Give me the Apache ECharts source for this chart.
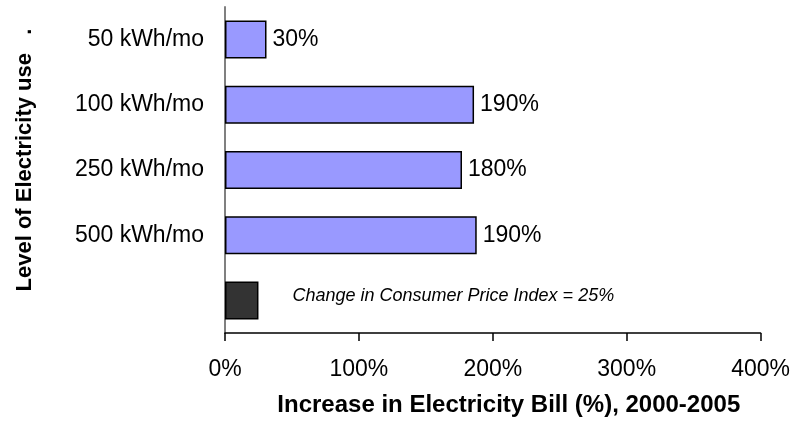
<!DOCTYPE html>
<html>
<head>
<meta charset="utf-8">
<script src="https://cdn.jsdelivr.net/npm/echarts@6/dist/echarts.min.js"></script>
<style>
html,body{margin:0;padding:0;background:#fff;}
#main{width:793px;height:422px;}
</style>
</head>
<body>
<div id="main"></div>
<script>
var categories = ['50 kWh/mo', '100 kWh/mo', '250 kWh/mo', '500 kWh/mo', ''];
var billIncrease = [31, 186, 177, 188, 25];
var barLabels = ['30%', '190%', '180%', '190%', 'Change in Consumer Price Index = 25%'];
var xTicks = [0, 100, 200, 300, 400];

var myChart = echarts.init(document.getElementById('main'));

var fontName = '"Liberation Sans", Arial, sans-serif';

function buildData(){
    var out = [];
    for (var i = 0; i < billIncrease.length; i++) {
        var isCpi = (i === billIncrease.length - 1);
        out.push({
            value: billIncrease[i],
            itemStyle: {
                color: isCpi ? '#333333' : '#9999FF',
                borderColor: '#000',
                borderWidth: 1.5
            },
            label: {
                show: true,
                position: 'right',
                distance: isCpi ? 34 : 6,
                offset: isCpi ? [0, -4] : [0, 0],
                formatter: barLabels[i],
                fontFamily: fontName,
                fontSize: isCpi ? 18 : 23,
                fontStyle: isCpi ? 'italic' : 'normal',
                color: '#000'
            }
        });
    }
    return out;
}

var option = {
    animation: false,
    grid: {
        left: 225,
        right: 31,
        top: 7,
        bottom: 87
    },
    xAxis: {
        type: 'value',
        min: xTicks[0],
        max: xTicks[xTicks.length - 1],
        interval: 100,
        name: 'Increase in Electricity Bill (%), 2000-2005',
        nameLocation: 'middle',
        nameGap: 60,
        nameTextStyle: {
            fontFamily: fontName,
            fontSize: 24,
            fontWeight: 'bold',
            color: '#000',
            padding: [0, 0, 0, 32]
        },
        axisLine: { show: true, lineStyle: { color: '#000', width: 1.5 } },
        axisTick: { show: true, length: 8, lineStyle: { color: '#000', width: 1.5 } },
        splitLine: { show: false },
        axisLabel: {
            margin: 25,
            formatter: '{value}%',
            fontFamily: fontName,
            fontSize: 23,
            color: '#000'
        }
    },
    yAxis: {
        type: 'category',
        inverse: true,
        data: categories,
        name: 'Level of Electricity use   .',
        nameLocation: 'middle',
        nameGap: 189,
        nameTextStyle: {
            fontFamily: fontName,
            fontSize: 22,
            fontWeight: 'bold',
            color: '#000',
            padding: [0, 0, 0, 20]
        },
        axisLine: { show: true, lineStyle: { color: '#808080', width: 2 } },
        axisTick: { show: false },
        axisLabel: {
            margin: 21,
            fontFamily: fontName,
            fontSize: 23,
            color: '#000'
        }
    },
    series: [
        {
            type: 'bar',
            barWidth: 38,
            data: buildData()
        }
    ]
};

myChart.setOption(option);
</script>
</body>
</html>
